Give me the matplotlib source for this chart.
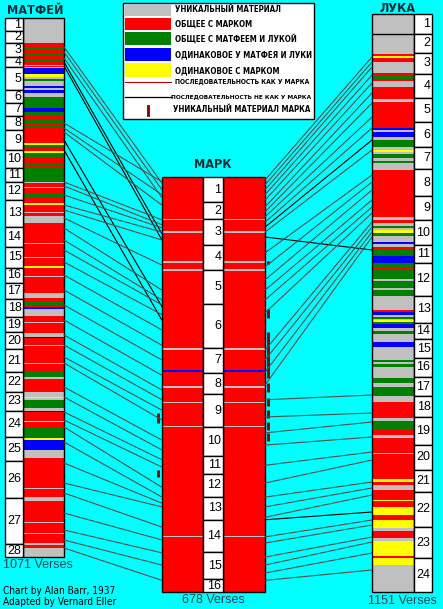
import matplotlib
matplotlib.use('Agg')
import matplotlib.pyplot as plt
from matplotlib import font_manager as fm
from matplotlib.patches import Rectangle, ConnectionPatch

# chapter sizes in chart rows
matt_chapters = [26, 24, 28, 20, 46, 26, 26, 28, 40, 36, 28, 36, 54, 40, 42, 30, 32, 36,
                 30, 34, 46, 40, 38, 52, 48, 74, 92, 26]
mark_chapters = [41, 28, 42, 41, 55, 72, 41, 35, 53, 48, 29, 38, 37, 53, 44, 21]
luke_chapters = [40, 38, 42, 48, 48, 50, 44, 54, 48, 50, 36, 66, 54, 32, 38, 38, 38, 42,
                 56, 50, 44, 70, 62, 68]

verse_counts = {'matt': 1071, 'mark': 678, 'luke': 1151}

# colour runs: (start row, kind)  u=unique r=with Mark g=Matt+Luke b=same Matt/Luke y=same as Mark
matt_runs = [(0, 'u'), (50, 'r'), (60, 'g'), (64, 'r'), (70, 'g'), (76, 'r'), (84, 'g'), (88, 'r'),
             (94, 'u'), (96, 'r'), (98, 'u'), (100, 'b'), (112, 'y'), (118, 'u'), (122, 'g'),
             (126, 'u'), (136, 'b'), (140, 'u'), (144, 'b'), (150, 'u'), (158, 'g'), (180, 'b'),
             (188, 'g'), (196, 'r'), (204, 'g'), (210, 'r'), (216, 'g'), (220, 'r'), (250, 'y'),
             (254, 'g'), (260, 'r'), (266, 'y'), (270, 'g'), (280, 'r'), (290, 'g'), (296, 'r'),
             (300, 'g'), (328, 'u'), (330, 'r'), (338, 'u'), (340, 'r'), (350, 'g'), (358, 'r'),
             (370, 'y'), (374, 'r'), (388, 'u'), (390, 'r'), (396, 'u'), (410, 'r'), (450, 'u'),
             (452, 'r'), (478, 'u'), (480, 'r'), (496, 'y'), (500, 'r'), (516, 'u'), (518, 'r'),
             (550, 'u'), (560, 'r'), (568, 'g'), (574, 'r'), (578, 'b'), (582, 'u'), (596, 'r'),
             (608, 'u'), (610, 'r'), (630, 'u'), (638, 'b'), (640, 'r'), (654, 'u'), (656, 'r'),
             (690, 'u'), (692, 'r'), (708, 'g'), (718, 'u'), (722, 'r'), (748, 'u'), (758, 'y'),
             (760, 'u'), (764, 'g'), (780, 'u'), (786, 'b'), (788, 'r'), (806, 'y'), (808, 'r'),
             (820, 'g'), (840, 'y'), (844, 'b'), (864, 'u'), (880, 'r'), (940, 'u'), (942, 'r'),
             (958, 'u'), (966, 'r'), (1008, 'u'), (1010, 'r'), (1030, 'u'), (1032, 'r'),
             (1050, 'u'), (1054, 'r'), (1060, 'u')]

mark_runs = [(0, 'r'), (68, 'u'), (70, 'r'), (89, 'u'), (91, 'r'), (137, 'u'), (141, 'r'),
             (151, 'u'), (153, 'r'), (280, 'u'), (282, 'r'), (315, 'b'), (319, 'r'), (342, 'u'),
             (344, 'r'), (368, 'u'), (370, 'r'), (406, 'u'), (408, 'r'), (586, 'u'), (588, 'r')]

luke_runs = [(0, 'u'), (80, 'r'), (84, 'y'), (88, 'r'), (96, 'u'), (118, 'r'), (124, 'g'), (130, 'r'),
             (134, 'u'), (146, 'r'), (170, 'u'), (176, 'r'), (228, 'b'), (232, 'u'), (236, 'b'),
             (246, 'u'), (252, 'g'), (266, 'u'), (272, 'y'), (276, 'u'), (280, 'g'), (288, 'u'),
             (294, 'g'), (298, 'u'), (312, 'r'), (406, 'u'), (412, 'r'), (418, 'u'), (424, 'g'),
             (428, 'u'), (432, 'y'), (438, 'g'), (444, 'u'), (456, 'b'), (460, 'u'), (466, 'r'),
             (470, 'g'), (484, 'b'), (498, 'g'), (508, 'r'), (510, 'g'), (530, 'u'), (534, 'g'),
             (548, 'u'), (552, 'g'), (564, 'u'), (592, 'r'), (596, 'b'), (602, 'u'), (606, 'g'),
             (610, 'u'), (612, 'y'), (616, 'g'), (620, 'b'), (628, 'u'), (634, 'g'), (640, 'u'),
             (656, 'b'), (666, 'u'), (692, 'g'), (696, 'u'), (700, 'g'), (706, 'u'), (728, 'g'),
             (738, 'u'), (746, 'g'), (764, 'u'), (776, 'r'), (808, 'u'), (814, 'g'), (832, 'r'),
             (842, 'u'), (848, 'r'), (878, 'u'), (880, 'r'), (930, 'y'), (936, 'r'), (942, 'u'),
             (952, 'r'), (972, 'y'), (974, 'r'), (986, 'y'), (1002, 'r'), (1012, 'y'), (1028, 'u'),
             (1034, 'r'), (1048, 'u'), (1054, 'y'), (1084, 'r'), (1088, 'y'), (1102, 'u')]

# Mark-only material (row ranges), right and left of Mark's column
mark_unique_right = [(137, 142), (216, 230), (253, 328), (337, 351), (361, 374), (381, 394),
                     (400, 413), (418, 431)]
mark_unique_left = [(386, 402), (479, 490)]

# parallels: (row in Matthew, row in Mark, s=same order / n=not same order)
matt_mark_links = [(58, 10, 's'), (68, 21, 's'), (80, 34, 's'), (88, 93, 'n'), (96, 103, 'n'),
                   (210, 8, 's'), (220, 29, 's'), (228, 46, 's'), (244, 212, 'n'), (264, 234, 'n'),
                   (328, 70, 's'), (336, 78, 's'), (354, 83, 's'), (374, 90, 's'), (384, 103, 's'),
                   (400, 144, 's'), (420, 185, 's'), (444, 201, 's'), (464, 209, 's'),
                   (488, 225, 's'), (514, 250, 's'), (544, 275, 's'), (574, 299, 's'),
                   (604, 324, 's'), (634, 348, 's'), (654, 364, 's'), (678, 381, 's'),
                   (690, 397, 's'), (738, 430, 's'), (758, 446, 's'), (788, 462, 's'),
                   (804, 474, 's'), (818, 507, 's'), (848, 523, 's'), (890, 533, 's'),
                   (930, 539, 's'), (950, 572, 's'), (990, 593, 's'), (1024, 614, 's'),
                   (1044, 634, 's'), (1060, 659, 's')]

# (row in Mark, row in Luke, kind)
mark_luke_links = [(5, 86, 's'), (13, 96, 's'), (21, 106, 's'), (29, 122, 's'), (38, 138, 's'),
                   (49, 158, 's'), (57, 178, 's'), (65, 206, 's'), (74, 228, 's'), (82, 252, 'n'),
                   (90, 272, 's'), (98, 472, 'n'), (124, 322, 's'), (147, 336, 's'),
                   (168, 352, 's'), (185, 372, 's'), (201, 386, 's'), (222, 398, 's'),
                   (283, 416, 's'), (299, 426, 's'), (319, 436, 's'), (340, 446, 's'),
                   (364, 762, 's'), (392, 798, 's'), (418, 816, 's'), (438, 846, 's'),
                   (471, 876, 's'), (500, 892, 's'), (523, 936, 's'), (539, 948, 's'),
                   (556, 962, 's'), (560, 996, 'n'), (588, 1012, 's'), (598, 1022, 's'),
                   (621, 1046, 's'), (634, 1056, 's'), (647, 1078, 's'), (659, 1112, 's')]

legend_items = ['УНИКАЛЬНЫЙ МАТЕРИАЛ', 'ОБЩЕЕ С МАРКОМ', 'ОБЩЕЕ С МАТФЕЕМ И ЛУКОЙ',
                'ОДИНАКОВОЕ У МАТФЕЯ И ЛУКИ', 'ОДИНАКОВОЕ С МАРКОМ']

COLORS = {'u': '#c0c0c0', 'r': '#ff0000', 'g': '#008000', 'b': '#0000ff', 'y': '#ffff00'}
LINK_COLORS = {'s': '#505050', 'n': '#000000'}
BG = '#00ffff'
TITLE_C = '#0b2e3a'
PLAIN = ['Liberation Sans', 'DejaVu Sans']

STRETCH_NUM = {'ultra-condensed': 100, 'extra-condensed': 200, 'condensed': 300,
               'semi-condensed': 400, 'normal': 500}


def narrow_font(bold):
    """find a condensed face among the installed fonts, else plain Liberation Sans"""
    want = 700 if bold else 400
    best, best_key = None, None
    for f in fm.fontManager.ttflist:
        st = f.stretch if isinstance(f.stretch, int) else STRETCH_NUM.get(f.stretch, 500)
        w = f.weight if isinstance(f.weight, int) else fm.weight_dict.get(f.weight, 400)
        if f.style != 'normal' or w != want:
            continue
        if st >= 500 and 'Narrow' not in f.name and 'Condensed' not in f.name:
            continue
        key = (abs(st - 300), 0 if 'Liberation' in f.name else 1)
        if best_key is None or key < best_key:
            best, best_key = f.fname, key
    if best:
        return dict(fontproperties=fm.FontProperties(fname=best))
    return dict(family=PLAIN, weight='bold' if bold else 'normal')


NB = narrow_font(True)
NR = narrow_font(False)

W, H = 443, 609
fig = plt.figure(figsize=(W / 100, H / 100), dpi=100, facecolor=BG)
renderer = fig.canvas.get_renderer()


def column_axes(x0, x1, y0, y1, total):
    ax = fig.add_axes([x0 / W, 1 - y1 / H, (x1 - x0) / W, (y1 - y0) / H])
    ax.set_xlim(0, x1 - x0)
    ax.set_ylim(total, 0)
    ax.axis('off')
    return ax


def draw_runs(ax, runs, total, x0, width):
    starts = [r[0] for r in runs]
    ends = starts[1:] + [total]
    for (s, kind), e in zip(runs, ends):
        ax.bar(x0, e - s, bottom=s, width=width, align='edge', color=COLORS[kind], linewidth=0)
    ax.add_patch(Rectangle((x0, 0), width, total, fill=False, edgecolor='black', lw=1, clip_on=False))


def draw_numbers(ax, chapters, x0, width):
    pos = 0
    for i, n in enumerate(chapters):
        ax.add_patch(Rectangle((x0, pos), width, n, facecolor='white', edgecolor='black',
                               lw=1, clip_on=False))
        ax.text(x0 + width - 1.5, pos + n / 2, str(i + 1), ha='right', va='center',
                fontsize=9, family=PLAIN, color='black')
        pos += n


def size_for(ax, s, width_px, **kw):
    # the condensed face of the original is missing: pick the size giving a wanted width
    t = ax.text(0, 0, s, fontsize=10, **kw)
    w = t.get_window_extent(renderer).width
    t.remove()
    return 10 * width_px / w


total_matt = sum(matt_chapters)
total_mark = sum(mark_chapters)
total_luke = sum(luke_chapters)

ax_matt = column_axes(5, 64, 18, 557, total_matt)
draw_runs(ax_matt, matt_runs, total_matt, 18, 41)
draw_numbers(ax_matt, matt_chapters, 0, 18)

ax_mark = column_axes(162, 265, 177, 592, total_mark)
draw_runs(ax_mark, mark_runs, total_mark, 0, 41)
draw_runs(ax_mark, mark_runs, total_mark, 61, 42)
draw_numbers(ax_mark, mark_chapters, 41, 20)
for a, b in mark_unique_right:
    ax_mark.vlines(106, a, b, color='#7a0000', lw=2, clip_on=False)
for a, b in mark_unique_left:
    ax_mark.vlines(-4, a, b, color='#7a0000', lw=2, clip_on=False)

ax_luke = column_axes(372, 432, 14, 592, total_luke)
draw_runs(ax_luke, luke_runs, total_luke, 0, 42)
draw_numbers(ax_luke, luke_chapters, 42, 18)
ax_luke.hlines(luke_chapters[0], 0, 42, color='black', lw=1)

for vm, vk, kind in matt_mark_links:
    fig.add_artist(ConnectionPatch(xyA=(59, vm), coordsA=ax_matt.transData,
                                   xyB=(0, vk), coordsB=ax_mark.transData,
                                   color=LINK_COLORS[kind], lw=0.8, zorder=1))
for vk, vl, kind in mark_luke_links:
    fig.add_artist(ConnectionPatch(xyA=(103, vk), coordsA=ax_mark.transData,
                                   xyB=(0, vl), coordsB=ax_luke.transData,
                                   color=LINK_COLORS[kind], lw=0.8, zorder=1))

# titles, legend and notes on a transparent overlay
ax_t = fig.add_axes([0, 0, 1, 1], zorder=5)
ax_t.set_xlim(0, W)
ax_t.set_ylim(H, 0)
ax_t.axis('off')
ax_t.patch.set_visible(False)

title_kw = dict(color=TITLE_C, ha='center', va='center', **NB)
fs_title = size_for(ax_t, 'МАТФЕЙ', 56, **title_kw)
ax_t.text(35, 10, 'МАТФЕЙ', fontsize=fs_title, **title_kw)
ax_t.text(213, 165, 'МАРК', fontsize=fs_title, **title_kw)
ax_t.text(398, 8, 'ЛУКА', fontsize=fs_title, **title_kw)

ax_t.add_patch(Rectangle((123, 3), 191, 116, facecolor='white', edgecolor='black', lw=1))
leg_kw = dict(color='black', va='center', ha='left', **NB)
fs_leg = size_for(ax_t, legend_items[3], 136, **leg_kw)
sw_y = [4, 18, 32, 48, 63]
sw_h = [12, 12, 13, 13, 14]
for label, kind, y, h in zip(legend_items, 'urgby', sw_y, sw_h):
    ax_t.add_patch(Rectangle((125, y), 46, h, facecolor=COLORS[kind], lw=0))
    ax_t.text(175, y + h / 2 + (1 if kind == 'y' else 0), label, fontsize=fs_leg, **leg_kw)
ax_t.plot([125, 171], [82, 82], color='#b00000', lw=0.8)
s1 = 'ПОСЛЕДОВАТЕЛЬНОСТЬ КАК У МАРКА'
ax_t.text(175, 82, s1, fontsize=size_for(ax_t, s1, 136, **leg_kw), **leg_kw)
ax_t.plot([125, 172], [97, 97], color='black', lw=0.9)
s2 = 'ПОСЛЕДОВАТЕЛЬНОСТЬ НЕ КАК У МАРКА'
ax_t.text(171, 97, s2, fontsize=size_for(ax_t, s2, 141, **leg_kw), **leg_kw)
ax_t.plot([148, 148], [106, 115], color='#7a0000', lw=2)
ax_t.text(173, 110, 'УНИКАЛЬНЫЙ МАТЕРИАЛ МАРКА', fontsize=fs_leg, **leg_kw)

verse_kw = dict(fontsize=9, family=PLAIN, color='#1f4a5c', va='center')
ax_t.text(3, 565, f"{verse_counts['matt']} Verses", ha='left', **verse_kw)
ax_t.text(213, 600, f"{verse_counts['mark']} Verses", ha='center', **verse_kw)
ax_t.text(402, 601, f"{verse_counts['luke']} Verses", ha='center', **verse_kw)
fs_note = size_for(ax_t, 'Chart by Alan Barr, 1937', 112, **NR)
ax_t.text(3, 591, 'Chart by Alan Barr, 1937', fontsize=fs_note, va='center', **NR)
ax_t.text(3, 602, 'Adapted by Vernard Eller', fontsize=fs_note, va='center', **NR)

fig.savefig('out.png', dpi=100, facecolor=BG)
